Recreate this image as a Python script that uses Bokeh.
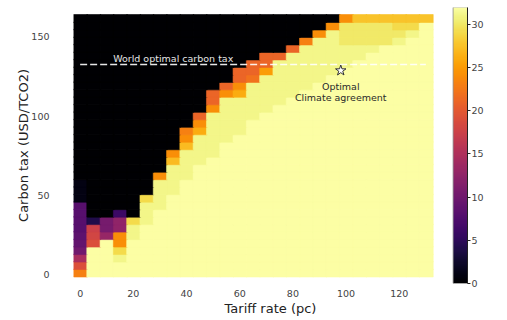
import numpy as np
from bokeh.plotting import figure
from bokeh.models import ColumnDataSource, LinearColorMapper, Range1d, FixedTicker, LinearAxis
from bokeh.palettes import Inferno256
from bokeh.transform import transform
from bokeh.embed import file_html
from bokeh.resources import INLINE
from bokeh.core.properties import value

# ---------------- data ----------------
tariff_rate = [0, 5, 10, 15, 20, 25, 30, 35, 40, 45, 50, 55, 60, 65, 70,
               75, 80, 85, 90, 95, 100, 105, 110, 115, 120, 125, 130]
carbon_tax = np.linspace(1.2, 161.8, 35)            # 35 carbon-tax rows (centres)
x_ticks = [0, 20, 40, 60, 80, 100, 120]
y_ticks = [0, 50, 100, 150]
cbar_ticks = [0, 5, 10, 15, 20, 25, 30]
value_low, value_high = 0, 32

# coalition size, rows listed from the highest carbon tax (top) to the lowest (bottom)
coalition_size = [
    [0, 0, 0, 0, 0, 0, 0, 0, 0, 0, 0, 0, 0, 0, 0, 0, 0, 0, 0, 0, 24, 27.5, 27.5, 27.5, 27.5, 27.5, 27.5],
    [0, 0, 0, 0, 0, 0, 0, 0, 0, 0, 0, 0, 0, 0, 0, 0, 0, 0, 0, 24, 30, 30, 30, 30, 29, 29, 32],
    [0, 0, 0, 0, 0, 0, 0, 0, 0, 0, 0, 0, 0, 0, 0, 0, 0, 0, 24, 31, 30, 30, 30, 30, 30, 31, 32],
    [0, 0, 0, 0, 0, 0, 0, 0, 0, 0, 0, 0, 0, 0, 0, 0, 0, 23, 31, 31, 30, 30, 30, 30, 31, 32, 32],
    [0, 0, 0, 0, 0, 0, 0, 0, 0, 0, 0, 0, 0, 0, 0, 0, 21, 31, 31, 31, 31, 31, 31, 32, 32, 32, 32],
    [0, 0, 0, 0, 0, 0, 0, 0, 0, 0, 0, 0, 0, 0, 21, 21, 31, 31, 31, 31, 31, 31, 32, 32, 32, 32, 32],
    [0, 0, 0, 0, 0, 0, 0, 0, 0, 0, 0, 0, 0, 21, 21, 31, 31, 31, 31, 31, 31, 32, 32, 32, 32, 32, 32],
    [0, 0, 0, 0, 0, 0, 0, 0, 0, 0, 0, 0, 21, 21, 25, 31, 31, 31, 31, 31, 32, 32, 32, 32, 32, 32, 32],
    [0, 0, 0, 0, 0, 0, 0, 0, 0, 0, 0, 0, 21, 22, 31, 31, 31, 31, 31, 32, 32, 32, 32, 32, 32, 32, 32],
    [0, 0, 0, 0, 0, 0, 0, 0, 0, 0, 0, 21, 24, 31, 31, 31, 31, 31, 32, 32, 32, 32, 32, 32, 32, 32, 32],
    [0, 0, 0, 0, 0, 0, 0, 0, 0, 0, 21, 24, 26, 31, 31, 31, 31, 32, 32, 32, 32, 32, 32, 32, 32, 32, 32],
    [0, 0, 0, 0, 0, 0, 0, 0, 0, 0, 21, 31, 31, 31, 31, 31, 32, 32, 32, 32, 32, 32, 32, 32, 32, 32, 32],
    [0, 0, 0, 0, 0, 0, 0, 0, 0, 0, 24, 31, 31, 31, 31, 32, 32, 32, 32, 32, 32, 32, 32, 32, 32, 32, 32],
    [0, 0, 0, 0, 0, 0, 0, 0, 0, 21, 31, 31, 31, 31, 32, 32, 32, 32, 32, 32, 32, 32, 32, 32, 32, 32, 32],
    [0, 0, 0, 0, 0, 0, 0, 0, 0, 24, 31, 31, 31, 32, 32, 32, 32, 32, 32, 32, 32, 32, 32, 32, 32, 32, 32],
    [0, 0, 0, 0, 0, 0, 0, 0, 23, 26, 31, 31, 31, 32, 32, 32, 32, 32, 32, 32, 32, 32, 32, 32, 32, 32, 32],
    [0, 0, 0, 0, 0, 0, 0, 0, 24, 31, 31, 31, 32, 32, 32, 32, 32, 32, 32, 32, 32, 32, 32, 32, 32, 32, 32],
    [0, 0, 0, 0, 0, 0, 0, 0, 27, 31, 31, 32, 32, 32, 32, 32, 32, 32, 32, 32, 32, 32, 32, 32, 32, 32, 32],
    [0, 0, 0, 0, 0, 0, 0, 24, 31, 31, 31, 32, 32, 32, 32, 32, 32, 32, 32, 32, 32, 32, 32, 32, 32, 32, 32],
    [0, 0, 0, 0, 0, 0, 0, 27, 31, 31, 32, 32, 32, 32, 32, 32, 32, 32, 32, 32, 32, 32, 32, 32, 32, 32, 32],
    [0, 0, 0, 0, 0, 0, 0, 31, 31, 32, 32, 32, 32, 32, 32, 32, 32, 32, 32, 32, 32, 32, 32, 32, 32, 32, 32],
    [0, 0, 0, 0, 0, 0, 24, 31, 31, 32, 32, 32, 32, 32, 32, 32, 32, 32, 32, 32, 32, 32, 32, 32, 32, 32, 32],
    [1, 0, 0, 0, 0, 0, 31, 31, 32, 32, 32, 32, 32, 32, 32, 32, 32, 32, 32, 32, 32, 32, 32, 32, 32, 32, 32],
    [1, 0, 0, 0, 0, 0, 31, 31, 32, 32, 32, 32, 32, 32, 32, 32, 32, 32, 32, 32, 32, 32, 32, 32, 32, 32, 32],
    [1, 0, 0, 0, 0, 29, 31, 32, 32, 32, 32, 32, 32, 32, 32, 32, 32, 32, 32, 32, 32, 32, 32, 32, 32, 32, 32],
    [8, 0, 0, 0, 0, 31, 31, 32, 32, 32, 32, 32, 32, 32, 32, 32, 32, 32, 32, 32, 32, 32, 32, 32, 32, 32, 32],
    [8, 0, 0, 6, 0, 31, 32, 32, 32, 32, 32, 32, 32, 32, 32, 32, 32, 32, 32, 32, 32, 32, 32, 32, 32, 32, 32],
    [8, 4, 10.5, 12.5, 29, 31, 32, 32, 32, 32, 32, 32, 32, 32, 32, 32, 32, 32, 32, 32, 32, 32, 32, 32, 32, 32, 32],
    [8, 17.5, 10.5, 12.5, 31, 32, 32, 32, 32, 32, 32, 32, 32, 32, 32, 32, 32, 32, 32, 32, 32, 32, 32, 32, 32, 32, 32],
    [8.5, 18, 13, 24, 31, 32, 32, 32, 32, 32, 32, 32, 32, 32, 32, 32, 32, 32, 32, 32, 32, 32, 32, 32, 32, 32, 32],
    [9, 19, 32, 24, 32, 32, 32, 32, 32, 32, 32, 32, 32, 32, 32, 32, 32, 32, 32, 32, 32, 32, 32, 32, 32, 32, 32],
    [10, 32, 32, 29, 32, 32, 32, 32, 32, 32, 32, 32, 32, 32, 32, 32, 32, 32, 32, 32, 32, 32, 32, 32, 32, 32, 32],
    [14.5, 32, 32, 31, 32, 32, 32, 32, 32, 32, 32, 32, 32, 32, 32, 32, 32, 32, 32, 32, 32, 32, 32, 32, 32, 32, 32],
    [19, 32, 32, 32, 32, 32, 32, 32, 32, 32, 32, 32, 32, 32, 32, 32, 32, 32, 32, 32, 32, 32, 32, 32, 32, 32, 32],
    [23, 32, 32, 32, 32, 32, 32, 32, 32, 32, 32, 32, 32, 32, 32, 32, 32, 32, 32, 32, 32, 32, 32, 32, 32, 32, 32],
]

world_optimal_tax = 132.6
world_label_tariff = 35
optimum_tariff = 98
optimum_tax = 128.8

# ---------------- layout geometry (screen pixels) ----------------
FIG_W, FIG_H = 495, 319
BORDER_L, BORDER_R, BORDER_T, BORDER_B = 73, 28, 7, 36
FRAME_W = FIG_W - BORDER_L - BORDER_R          # frame spans heatmap + colour bar
FRAME_H = FIG_H - BORDER_T - BORDER_B
HEAT_W, HEAT_H = 359, 262                       # heatmap size inside the frame
HEAT_TOP = 7                                    # heatmap top below frame top
CBAR_W = 14.4                                   # colour bar width at frame right
CBAR_OVER = 0.3                                 # colour bar top above frame top

# ---------------- cells ----------------
z = np.array(coalition_size[::-1], dtype=float)      # row 0 = lowest carbon tax
tax_step = carbon_tax[1] - carbon_tax[0]
tariff_step = tariff_rate[1] - tariff_rate[0]
xx, yy = np.meshgrid(tariff_rate, carbon_tax)
src = ColumnDataSource(dict(x=xx.ravel(), y=yy.ravel(), z=z.ravel()))

x0 = tariff_rate[0] - tariff_step / 2
px_x = HEAT_W / (len(tariff_rate) * tariff_step)
y_bottom_edge = carbon_tax[0] - tax_step / 2
y_top_edge = carbon_tax[-1] + tax_step / 2
px_y = HEAT_H / (y_top_edge - y_bottom_edge)
x_range = Range1d(x0, x0 + FRAME_W / px_x)
y_top = y_top_edge + HEAT_TOP / px_y
y_range = Range1d(y_top - FRAME_H / px_y, y_top)

mapper = LinearColorMapper(palette=Inferno256, low=value_low, high=value_high)
FONT = "DejaVu Sans"

p = figure(width=FIG_W, height=FIG_H, output_backend="svg", toolbar_location=None,
           x_range=x_range, y_range=y_range,
           min_border_left=BORDER_L, min_border_right=BORDER_R,
           min_border_top=BORDER_T, min_border_bottom=BORDER_B)

# colour-bar ranges: bar occupies the right CBAR_W pixels of the frame
cb_px = (FRAME_H + CBAR_OVER) / (value_high - value_low)
p.extra_x_ranges = {"cbar": Range1d(-(FRAME_W - CBAR_W) / CBAR_W, 1)}
p.extra_y_ranges = {"cbar": Range1d(value_low, value_low + FRAME_H / cb_px)}

p.rect(x="x", y="y", width=tariff_step, height=tax_step, source=src,
       fill_color=transform("z", mapper), line_color=transform("z", mapper),
       line_width=0.6, dilate=True)

p.line(x=[tariff_rate[0], tariff_rate[-1]], y=[world_optimal_tax, world_optimal_tax],
       line_color="white", line_width=1.3, line_dash="7 3", line_alpha=0.9)
p.text(x=[world_label_tariff], y=[world_optimal_tax], text=["World optimal carbon tax"],
       text_align="center", text_baseline="bottom", y_offset=-1,
       text_color="#e6e6e6", text_font=value(FONT), text_font_size="9.5px")
p.scatter(x=[optimum_tariff], y=[optimum_tax], marker="star", size=11,
          fill_color="white", line_color="#333333", line_width=1)
p.text(x=[optimum_tariff], y=[optimum_tax], text=["Optimal\nClimate agreement"],
       text_align="center", text_baseline="top", y_offset=10, text_line_height=1.05,
       text_color="#2a2a2a", text_font=value(FONT), text_font_size="9.5px")

# colour bar
p.image(image=[np.linspace(value_low, value_high, 256).reshape(-1, 1)], x=0, y=value_low,
        dw=1, dh=value_high - value_low, color_mapper=mapper,
        x_range_name="cbar", y_range_name="cbar")
p.quad(left=[0], right=[1], bottom=[value_low], top=[value_high], fill_color=None,
       line_color="#8a8a8a", line_width=0.8, x_range_name="cbar", y_range_name="cbar")
cax = LinearAxis(y_range_name="cbar", ticker=FixedTicker(ticks=cbar_ticks))
cax.axis_line_color = "#222222"
cax.major_tick_out = 3
cax.major_tick_in = 0
cax.major_tick_line_color = "#222222"
cax.minor_tick_line_color = None
cax.major_label_standoff = 1
cax.major_label_text_font = FONT
cax.major_label_text_font_size = "9.5px"
cax.major_label_text_color = "#444444"
p.add_layout(cax, "right")

p.xaxis[0].ticker = FixedTicker(ticks=x_ticks)
p.yaxis[0].ticker = FixedTicker(ticks=y_ticks)
p.xaxis[0].axis_label = "Tariff rate (pc)"
p.yaxis[0].axis_label = "Carbon tax (USD/TCO2)"
for ax in (p.xaxis[0], p.yaxis[0]):
    ax.axis_line_color = None
    ax.major_tick_line_color = None
    ax.minor_tick_line_color = None
    ax.major_label_text_font = FONT
    ax.major_label_text_font_size = "9.5px"
    ax.major_label_text_color = "#444444"
    ax.axis_label_text_font = FONT
    ax.axis_label_text_font_size = "13px"
    ax.axis_label_text_font_style = "normal"
    ax.axis_label_text_color = "#222222"
p.xaxis[0].major_label_standoff = 0
p.xaxis[0].axis_label_standoff = 1
p.yaxis[0].major_label_standoff = 18
p.yaxis[0].axis_label_standoff = -3
p.grid.visible = False
p.outline_line_color = None

open("out.html", "w").write(file_html(p, INLINE))
